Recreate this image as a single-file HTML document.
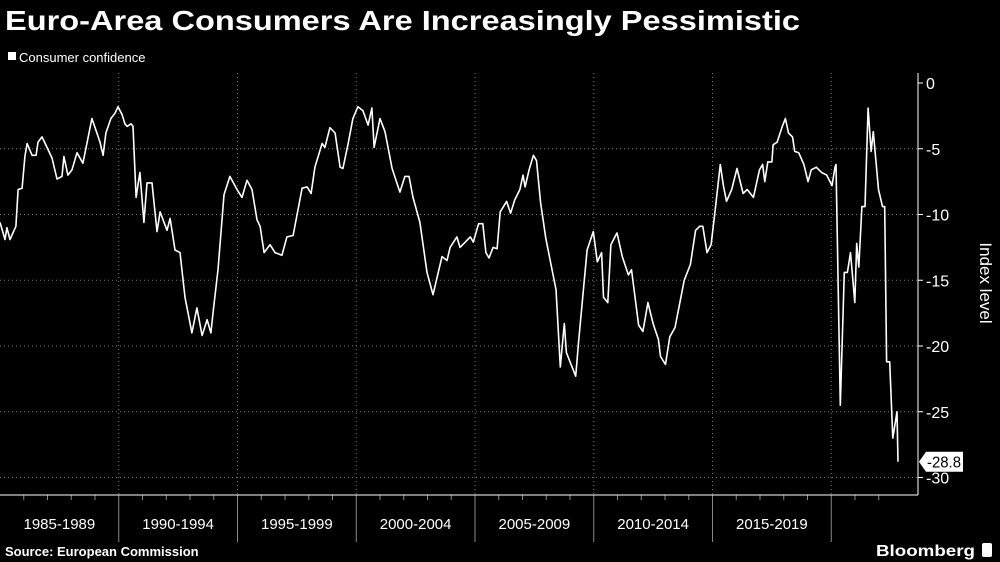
<!DOCTYPE html>
<html><head><meta charset="utf-8">
<style>
html,body{margin:0;padding:0;background:#000;}
svg{display:block;font-family:"Liberation Sans",sans-serif;}
</style></head>
<body>
<svg id="chart" width="1000" height="562" viewBox="0 0 1000 562">
<rect width="1000" height="562" fill="#000"/>
<text x="5" y="30" fill="#fff" font-size="28" font-weight="bold" textLength="795" lengthAdjust="spacingAndGlyphs">Euro-Area Consumers Are Increasingly Pessimistic</text>
<g>
<rect x="8" y="52" width="8" height="8" fill="#fff"/>
<text x="19" y="62" fill="#fff" font-size="13">Consumer confidence</text>
</g>
<g id="grid"></g>
<g id="xaxis"></g>
<g id="yaxis"></g>
<g id="series"></g>
<text transform="translate(980,283) rotate(90)" fill="#fff" font-size="17" text-anchor="middle">Index level</text>
<text x="5" y="556" fill="#fff" font-size="13" font-weight="bold">Source: European Commission</text>
<text x="876" y="556" fill="#fff" font-size="16" font-weight="bold" textLength="99" lengthAdjust="spacingAndGlyphs">Bloomberg</text>
<rect x="982" y="543" width="10" height="14" rx="2" fill="#fff"/>
</svg>
<script>
const periodLabels = ["1985-1989","1990-1994","1995-1999","2000-2004","2005-2009","2010-2014","2015-2019"];
const yTicks = [0,-5,-10,-15,-20,-25,-30];
const yearsSince1985 = [0,.21,.29,.42,.67,.76,.93,1.05,1.14,1.35,1.52,1.6,1.77,1.98,2.19,2.4,2.61,2.69,2.86,3.03,3.24,3.49,3.66,3.87,4.08,4.21,4.34,4.46,4.67,4.84,4.97,5.14,5.26,5.35,5.52,5.6,5.73,5.89,6.06,6.19,6.4,6.61,6.74,7.03,7.16,7.37,7.58,7.79,8.08,8.29,8.51,8.72,8.88,8.97,9.18,9.43,9.68,9.98,10.19,10.4,10.61,10.82,10.95,11.12,11.37,11.58,11.87,12.08,12.34,12.72,12.93,13.1,13.26,13.56,13.68,13.89,14.11,14.32,14.44,14.65,14.86,15.07,15.28,15.5,15.66,15.75,16.0,16.21,16.51,16.84,17.05,17.22,17.39,17.68,17.98,18.23,18.61,18.82,18.95,19.24,19.37,
19.8,19.93,20.15,20.33,20.46,20.59,20.76,20.93,21.06,21.33,21.5,21.67,21.89,22.02,22.11,22.28,22.46,22.59,22.76,22.98,23.2,23.41,23.59,23.76,23.85,24.02,24.24,24.37,24.72,24.98,25.15,25.33,25.41,25.59,25.72,25.98,26.2,26.46,26.59,26.89,27.07,27.28,27.5,27.72,27.81,28.02,28.2,28.42,28.81,29.07,29.29,29.46,29.59,29.77,29.94,30.11,30.33,30.46,30.59,30.81,31.03,31.29,31.46,31.72,31.98,32.11,32.2,32.33,32.5,32.55,32.72,32.94,33.07,33.2,33.37,33.46,33.63,33.85,34.02,34.16,34.37,34.59,34.81,35.03,35.16,35.2,35.38,35.55,35.68,35.81,35.99,36.07,36.16,36.29,36.42,36.55,36.68,36.77,36.99,37.16,37.25,37.33,37.46,37.59,37.77,37.81];
const confidence = [-10.6,-11.9,-11,-11.9,-10.9,-8.1,-8,-5.6,-4.6,-5.5,-5.5,-4.5,-4.1,-4.9,-5.7,-7.3,-7.1,-5.6,-7,-6.6,-5.3,-6.1,-4.6,-2.7,-3.8,-4.5,-5.5,-3.8,-2.7,-2.3,-1.8,-2.4,-3.1,-3.3,-3.1,-3.3,-8.7,-6.8,-10.6,-7.6,-7.6,-11.3,-9.8,-11.2,-10.3,-12.7,-12.9,-16.3,-19,-17.1,-19.2,-18,-19,-17.5,-14.2,-8.5,-7.1,-8.1,-8.7,-7.4,-8.1,-10.4,-10.9,-12.9,-12.3,-12.9,-13.1,-11.7,-11.6,-8,-7.9,-8.4,-6.4,-4.6,-4.9,-3.4,-3.8,-6.4,-6.5,-4.7,-2.7,-1.8,-2.1,-3.2,-1.9,-4.9,-2.7,-3.7,-6.5,-8.3,-7.1,-7.1,-8.7,-10.6,-14.4,-16.1,-13.2,-13.5,-12.5,-11.7,-12.5,
-11.7,-12.1,-10.7,-10.7,-12.9,-13.3,-12.5,-12.6,-9.8,-9,-9.9,-8.9,-8.1,-7,-7.9,-6.6,-5.5,-5.9,-9.1,-11.8,-13.8,-15.7,-21.6,-18.3,-20.5,-21.3,-22.3,-19.5,-12.7,-11.3,-13.6,-12.9,-16.3,-16.7,-12.3,-11.4,-13.2,-14.6,-14.2,-18.4,-18.9,-16.7,-18.3,-19.5,-20.8,-21.4,-19.3,-18.6,-15,-13.8,-11.2,-10.9,-10.9,-12.9,-12.3,-9.7,-6.2,-7.8,-9,-8.1,-6.5,-8.4,-8.1,-8.7,-6.6,-6.2,-7.5,-6,-6,-4.7,-4.5,-3.3,-2.7,-3.8,-4.1,-5.2,-5.3,-6.2,-7.5,-6.6,-6.4,-6.8,-7,-7.8,-6.4,-6.2,-24.5,-14.4,-14.4,-12.9,-16.7,-12.2,-14,-9.4,-9.4,-1.9,-5.2,-3.7,-8.1,-9.4,-9.4,-21.2,-21.2,-27,-25,-28.8];
const lastValue = -28.8;

const NS="http://www.w3.org/2000/svg";
const PX_PER_YEAR=23.75, Y0=83, PX_PER_UNIT=13.15, AXIS_X=918, PLOT_TOP=73, PLOT_BOTTOM=495;
function xScale(t){return t*PX_PER_YEAR;}
function yScale(v){return Y0 - v*PX_PER_UNIT;}
function mk(tag,attrs,parent){const e=document.createElementNS(NS,tag);for(const k in attrs)e.setAttribute(k,attrs[k]);parent.appendChild(e);return e;}

const grid=document.getElementById('grid'), xa=document.getElementById('xaxis'), ya=document.getElementById('yaxis'), ser=document.getElementById('series');

yTicks.forEach(v=>{
  const y=yScale(v);
  if(v!==0){
    const g=mk('line',{x1:0,x2:AXIS_X,y1:y,y2:y,stroke:'#777','stroke-width':1,'stroke-dasharray':'1,3'},grid);
    
    
  }
  const t=mk('line',{x1:AXIS_X,x2:AXIS_X+5,y1:y,y2:y,stroke:'#fff','stroke-width':1},ya);
  
  
  const lb=mk('text',{x:AXIS_X+8,y:y+6,fill:'#fff','font-size':16},ya);
  lb.textContent=String(v);
  
  
});
for(let i=1;i<=7;i++){
  const x=xScale(i*5);
  const g=mk('line',{x1:x,x2:x,y1:PLOT_TOP,y2:PLOT_BOTTOM,stroke:'#777','stroke-width':1,'stroke-dasharray':'1,3'},grid);
  
  
  const s=mk('line',{x1:x,x2:x,y1:PLOT_BOTTOM,y2:542,stroke:'#888','stroke-width':1},xa);
  
  
}
for(let yr=1;yr<38;yr++){
  if(yr%5===0)continue;
  const x=xScale(yr);
  const m=mk('line',{x1:x,x2:x,y1:PLOT_BOTTOM,y2:PLOT_BOTTOM+5,stroke:'#888','stroke-width':1},xa);
  
  
}
periodLabels.forEach((p,i)=>{
  const lb=mk('text',{x:xScale(i*5+2.5),y:529,fill:'#fff','font-size':15,'text-anchor':'middle'},xa);
  lb.textContent=p;
  
  
});
const fb=mk('line',{x1:0,x2:AXIS_X,y1:PLOT_BOTTOM,y2:PLOT_BOTTOM,stroke:'#fff','stroke-width':1},xa);


const fr=mk('line',{x1:AXIS_X,x2:AXIS_X,y1:PLOT_TOP,y2:PLOT_BOTTOM,stroke:'#fff','stroke-width':1},ya);



const pts=yearsSince1985.map((t,i)=>xScale(t).toFixed(1)+','+yScale(confidence[i]).toFixed(1)).join(' ');
const pl=mk('polyline',{points:pts,fill:'none',stroke:'#fff','stroke-width':1.6,'stroke-linejoin':'round'},ser);



const ly=yScale(lastValue);
const cg=mk('g',{},ser);


mk('polygon',{points:`${AXIS_X+1},${ly} ${AXIS_X+8},${ly-10} ${AXIS_X+45},${ly-10} ${AXIS_X+45},${ly+10} ${AXIS_X+8},${ly+10}`,fill:'#fff'},cg);
const ct=mk('text',{x:AXIS_X+9,y:ly+6,fill:'#000','font-size':16,textLength:34,lengthAdjust:'spacingAndGlyphs'},cg);
ct.textContent=lastValue.toFixed(1);


</script>
</body></html>
